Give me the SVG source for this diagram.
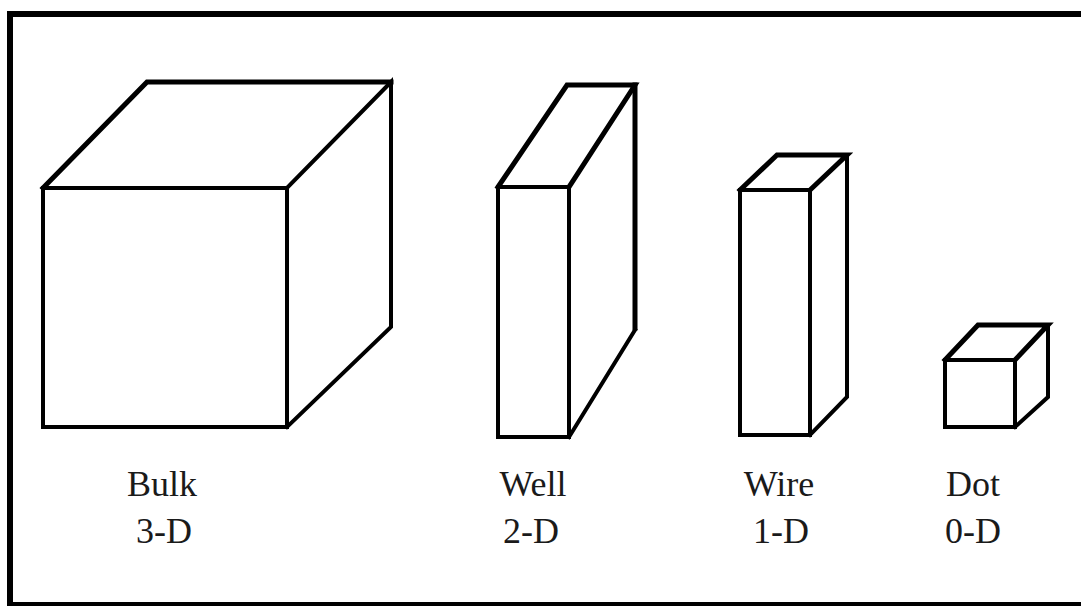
<svg xmlns="http://www.w3.org/2000/svg" width="1081" height="606" viewBox="0 0 1081 606">
  <style>
    .edge { fill: none; stroke: #000; stroke-width: 4; stroke-linejoin: miter; stroke-linecap: square; }
    .bold { stroke-width: 5; }
    .label { font-family: "Liberation Serif", "Times New Roman", serif; font-size: 36px; fill: #1a1a1a; text-anchor: middle; }
  </style>
  <rect width="1081" height="606" fill="#fff"/>
  <!-- outer frame, running off the right edge -->
  <rect x="10" y="14" width="1090" height="591" fill="none" stroke="#000" stroke-width="6"/>

  <!-- bulk: 3-D -->
  <g id="bulk">
    <rect class="edge" x="43" y="188" width="244" height="239"/>
    <path class="edge" d="M287,188 L391,82 L391,327 L287,427"/>
    <path class="edge bold" d="M43,188 L147,82 L391,82"/>
  </g>

  <!-- quantum well: 2-D -->
  <g id="well">
    <rect class="edge" x="498" y="187" width="71" height="250"/>
    <path class="edge bold" d="M498,187 L567,85 L635,85 L569,187"/>
    <path class="edge bold" d="M635,85 L635,328"/>
    <path class="edge" d="M635,330 L569,437"/>
  </g>

  <!-- quantum wire: 1-D -->
  <g id="wire">
    <rect class="edge" x="740" y="190" width="70" height="245"/>
    <path class="edge bold" d="M740,190 L777,155 L847,155 L810,190"/>
    <path class="edge" d="M847,155 L847,397 L810,435"/>
  </g>

  <!-- quantum dot: 0-D -->
  <g id="dot">
    <rect class="edge" x="945" y="360" width="70" height="67"/>
    <path class="edge bold" d="M945,360 L978,325 L1048,325 L1015,360"/>
    <path class="edge" d="M1048,325 L1048,397 L1015,427"/>
  </g>

  <g id="labels">
    <text class="label" x="162" y="496">Bulk</text>
    <text class="label" x="164" y="543">3-D</text>
    <text class="label" x="533" y="496">Well</text>
    <text class="label" x="531" y="543">2-D</text>
    <text class="label" x="779" y="496">Wire</text>
    <text class="label" x="781" y="543">1-D</text>
    <text class="label" x="973" y="496">Dot</text>
    <text class="label" x="973" y="543">0-D</text>
  </g>
</svg>
